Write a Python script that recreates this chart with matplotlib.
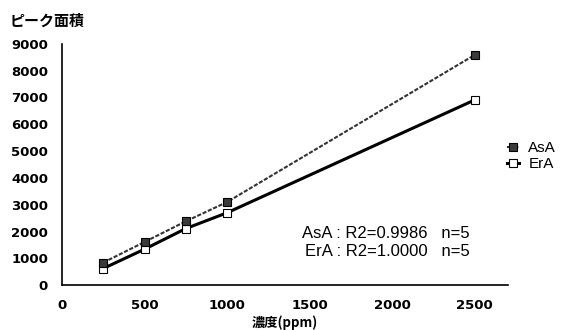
import matplotlib
matplotlib.use("Agg")
import matplotlib.pyplot as plt
from matplotlib.ticker import FixedLocator

plt.rcParams['font.family'] = ['Noto Sans CJK JP', 'DejaVu Sans']

conc = [250, 500, 750, 1000, 2500]
asa = [840, 1610, 2380, 3100, 8590]
era = [620, 1340, 2110, 2700, 6910]
xticks = [0, 500, 1000, 1500, 2000, 2500]
yticks = [0, 1000, 2000, 3000, 4000, 5000, 6000, 7000, 8000, 9000]
series_names = ["AsA", "ErA"]
ylabel = "ピーク面積"
xlabel = "濃度(ppm)"
notes = ["AsA : R2=0.9986   n=5", "ErA : R2=1.0000   n=5"]

fig = plt.figure(figsize=(5.63, 3.30), dpi=100)
ax = fig.add_axes([0.110, 0.136, 0.792, 0.731])

ax.plot(conc, asa, color="#333333", lw=1.5, ls=(0, (2, 0.8)), marker="s", ms=6,
        mfc="#3a3a3a", mec="black", mew=0.8, label=series_names[0], zorder=3)
ax.plot(conc, era, color="black", lw=2.2, marker="s", ms=6,
        mfc="white", mec="black", mew=0.8, label=series_names[1], zorder=2)

ax.set_xlim(0, 2700)
ax.set_ylim(0, 9000)
ax.xaxis.set_major_locator(FixedLocator(xticks))
ax.yaxis.set_major_locator(FixedLocator(yticks))
ax.tick_params(length=0, pad=10)
for lab in ax.get_xticklabels() + ax.get_yticklabels():
    lab.set_fontfamily("DejaVu Sans")
    lab.set_fontweight("bold")
    lab.set_fontsize(9.5)
for s in ["top", "right"]:
    ax.spines[s].set_visible(False)
ax.spines["left"].set_linewidth(1.2)
ax.spines["bottom"].set_linewidth(1.2)

fig.text(10/563, 1 - 21/330, ylabel, fontsize=10.8, fontweight="bold", va="center", ha="left")
fig.text(285/563, 1 - 323/330, xlabel, fontsize=9.5, fontweight="bold", va="center", ha="center")

fig.text(470/563, 1 - 234/330, notes[0], fontsize=12, ha="right", va="center",
         family=["Liberation Sans", "Noto Sans CJK JP"])
fig.text(470/563, 1 - 252/330, notes[1], fontsize=12, ha="right", va="center",
         family=["Liberation Sans", "Noto Sans CJK JP"])

leg = fig.legend(loc="center left", bbox_to_anchor=(507/563, 1 - 156/330), frameon=False,
                 borderpad=0, borderaxespad=0,
                 handlelength=0.8, handletextpad=0.6, labelspacing=0.15,
                 prop={"family": "Liberation Sans", "size": 11})

fig.savefig("out.png", dpi=100)
